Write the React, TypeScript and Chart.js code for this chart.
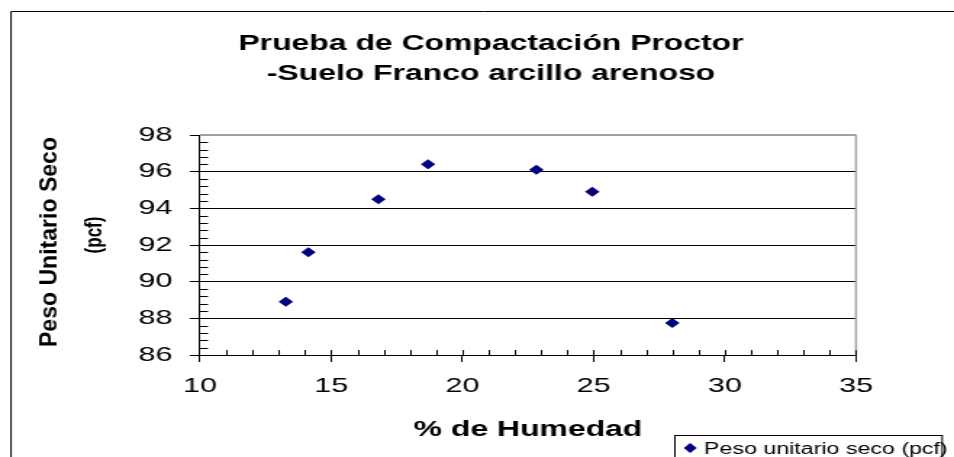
import React, { useEffect, useRef } from 'react';
import { Chart, registerables } from 'chart.js';

Chart.register(...registerables);

// ---- data ----
const humedad = [13.27, 14.13, 16.8, 18.69, 22.82, 24.95, 28.0];
const pesoUnitario = [88.9, 91.6, 94.5, 96.4, 96.1, 94.9, 87.75];
const seriesLabel = 'Peso unitario seco (pcf)';
const titleLines = ['Prueba de Compactación Proctor', '-Suelo Franco arcillo arenoso'];
const xTitle = '% de Humedad';
const yTitleLines = ['Peso Unitario Seco', '(pcf)'];
const xRange = [10, 35];
const xStep = 5;
const xMinorStep = 1;
const yRange = [86, 98];
const yStep = 2;
const yMinorStep = 0.4;

const FONT = '"Liberation Sans", Arial, sans-serif';
const OUT_W = 954;
const OUT_H = 457;
const IN_W = 658; // drawn narrower, stretched horizontally like the reference
const SX = OUT_W / IN_W;
const ix = (x: number) => x / SX;

const decorPlugin = {
  id: 'decor',
  beforeDraw(chart: any) {
    const ctx = chart.ctx;
    ctx.save();
    ctx.fillStyle = '#fff';
    ctx.fillRect(0, 0, chart.width, chart.height);
    ctx.strokeStyle = '#000';
    ctx.lineWidth = 1;
    ctx.beginPath();
    ctx.moveTo(ix(11), OUT_H + 2);
    ctx.lineTo(ix(11), 11.5);
    ctx.lineTo(chart.width + 2, 11.5);
    ctx.stroke();
    ctx.restore();
  },
  afterDraw(chart: any) {
    const ctx = chart.ctx;
    const area = chart.chartArea;
    const xs = chart.scales.x;
    const ys = chart.scales.y;
    ctx.save();

    // plot frame (top and right) in gray
    ctx.strokeStyle = '#a0a0a0';
    ctx.lineWidth = 2;
    ctx.beginPath();
    ctx.moveTo(area.left, area.top);
    ctx.lineTo(area.right, area.top);
    ctx.stroke();
    ctx.lineWidth = 1.5;
    ctx.beginPath();
    ctx.moveTo(area.right, area.top);
    ctx.lineTo(area.right, area.bottom);
    ctx.stroke();

    // minor / inner ticks
    ctx.strokeStyle = '#000';
    ctx.lineWidth = 1;
    ctx.beginPath();
    for (let v = xRange[0] + xMinorStep; v <= xRange[1] + 1e-9; v += xMinorStep) {
      const px = Math.round(xs.getPixelForValue(v)) + 0.5;
      ctx.moveTo(px, area.bottom);
      ctx.lineTo(px, area.bottom - 5);
    }
    for (let k = 1; (yRange[0] + k * yMinorStep) < yRange[1] - 1e-9; k++) {
      if (k % Math.round(yStep / yMinorStep) === 0) continue;
      const v = yRange[0] + k * yMinorStep;
      const py = Math.round(ys.getPixelForValue(v)) + 0.5;
      ctx.moveTo(area.left, py);
      ctx.lineTo(area.left + 5.5, py);
    }
    ctx.stroke();

    ctx.fillStyle = '#000';
    // chart title
    ctx.font = `bold 22px ${FONT}`;
    ctx.textAlign = 'center';
    ctx.textBaseline = 'alphabetic';
    ctx.fillText(titleLines[0], ix(491), 50);
    ctx.fillText(titleLines[1], ix(491), 80);

    // x axis title
    ctx.fillText(xTitle, (area.left + area.right) / 2, 436);

    // y axis title
    ctx.save();
    ctx.translate(ix(50.4), 242);
    ctx.rotate(-Math.PI / 2);
    ctx.font = `bold 17px ${FONT}`;
    const w = ctx.measureText(yTitleLines[0]).width;
    ctx.scale(210 / w, 1);
    ctx.textBaseline = 'middle';
    ctx.textAlign = 'center';
    ctx.fillText(yTitleLines[0], 0, 0);
    ctx.restore();
    ctx.save();
    ctx.translate(ix(95), 235);
    ctx.rotate(-Math.PI / 2);
    ctx.font = `bold 17px ${FONT}`;
    ctx.textBaseline = 'middle';
    ctx.textAlign = 'center';
    ctx.fillText(yTitleLines[1], 0, 0);
    ctx.restore();

    // legend
    const lx = ix(674.7);
    const lr = ix(942);
    ctx.strokeStyle = '#000';
    ctx.lineWidth = 1;
    ctx.strokeRect(Math.round(lx) + 0.5, 435.5, lr - lx, 40);
    const ds = chart.data.datasets[0];
    const cx = ix(690.2);
    const cy = 448;
    ctx.fillStyle = ds.backgroundColor;
    ctx.beginPath();
    ctx.moveTo(cx, cy - 5);
    ctx.lineTo(cx + 4.5, cy);
    ctx.lineTo(cx, cy + 5);
    ctx.lineTo(cx - 4.5, cy);
    ctx.closePath();
    ctx.fill();
    ctx.fillStyle = '#000';
    ctx.font = `16px ${FONT}`;
    ctx.textAlign = 'left';
    ctx.textBaseline = 'alphabetic';
    ctx.fillText(ds.label, ix(704), 454);

    ctx.restore();
  },
};

export default function App() {
  const ref = useRef<HTMLCanvasElement | null>(null);

  useEffect(() => {
    const canvas = ref.current;
    if (!canvas) return;
    const plotLeft = ix(200);
    const plotRight = ix(856);
    const plotTop = 135;
    const plotBottom = 355;
    const chart = new Chart(canvas, {
      type: 'scatter',
      data: {
        datasets: [
          {
            label: seriesLabel,
            data: humedad.map((x, i) => ({ x, y: pesoUnitario[i] })),
            backgroundColor: '#000080',
            borderColor: '#000080',
            pointStyle: 'rectRot',
            pointRadius: 5,
            pointBorderWidth: 0,
            pointHoverRadius: 5,
          },
        ],
      },
      options: {
        responsive: false,
        animation: false,
        devicePixelRatio: 1,
        events: [],
        layout: {
          padding: { left: 0, right: IN_W - plotRight, top: plotTop, bottom: 0 },
        },
        plugins: {
          legend: { display: false },
          title: { display: false },
          tooltip: { enabled: false },
        },
        scales: {
          x: {
            type: 'linear',
            min: xRange[0],
            max: xRange[1],
            afterFit: (s: any) => {
              s.height = OUT_H - plotBottom;
            },
            ticks: {
              stepSize: xStep,
              color: '#000',
              padding: 12,
              font: { family: FONT, size: 21 },
            },
            grid: {
              drawOnChartArea: false,
              drawTicks: true,
              tickLength: 7,
              tickColor: '#000',
            },
            border: { display: true, color: '#000', width: 1 },
          },
          y: {
            type: 'linear',
            min: yRange[0],
            max: yRange[1],
            afterFit: (s: any) => {
              s.width = plotLeft;
            },
            ticks: {
              stepSize: yStep,
              color: '#000',
              padding: 12,
              font: { family: FONT, size: 21 },
            },
            grid: {
              drawOnChartArea: true,
              color: (c: any) => (c.tick && c.tick.value === yRange[1] ? 'rgba(0,0,0,0)' : '#000'),
              lineWidth: 1,
              drawTicks: true,
              tickLength: 7,
              tickColor: '#000',
            },
            border: { display: true, color: '#000', width: 1 },
          },
        },
      },
      plugins: [decorPlugin],
    });
    return () => chart.destroy();
  }, []);

  return (
    <div style={{ position: 'absolute', left: 0, top: 0, width: OUT_W, height: OUT_H, overflow: 'hidden' }}>
      <canvas
        ref={ref}
        width={IN_W}
        height={OUT_H}
        style={{ width: OUT_W + 'px', height: OUT_H + 'px', display: 'block' }}
      />
    </div>
  );
}
